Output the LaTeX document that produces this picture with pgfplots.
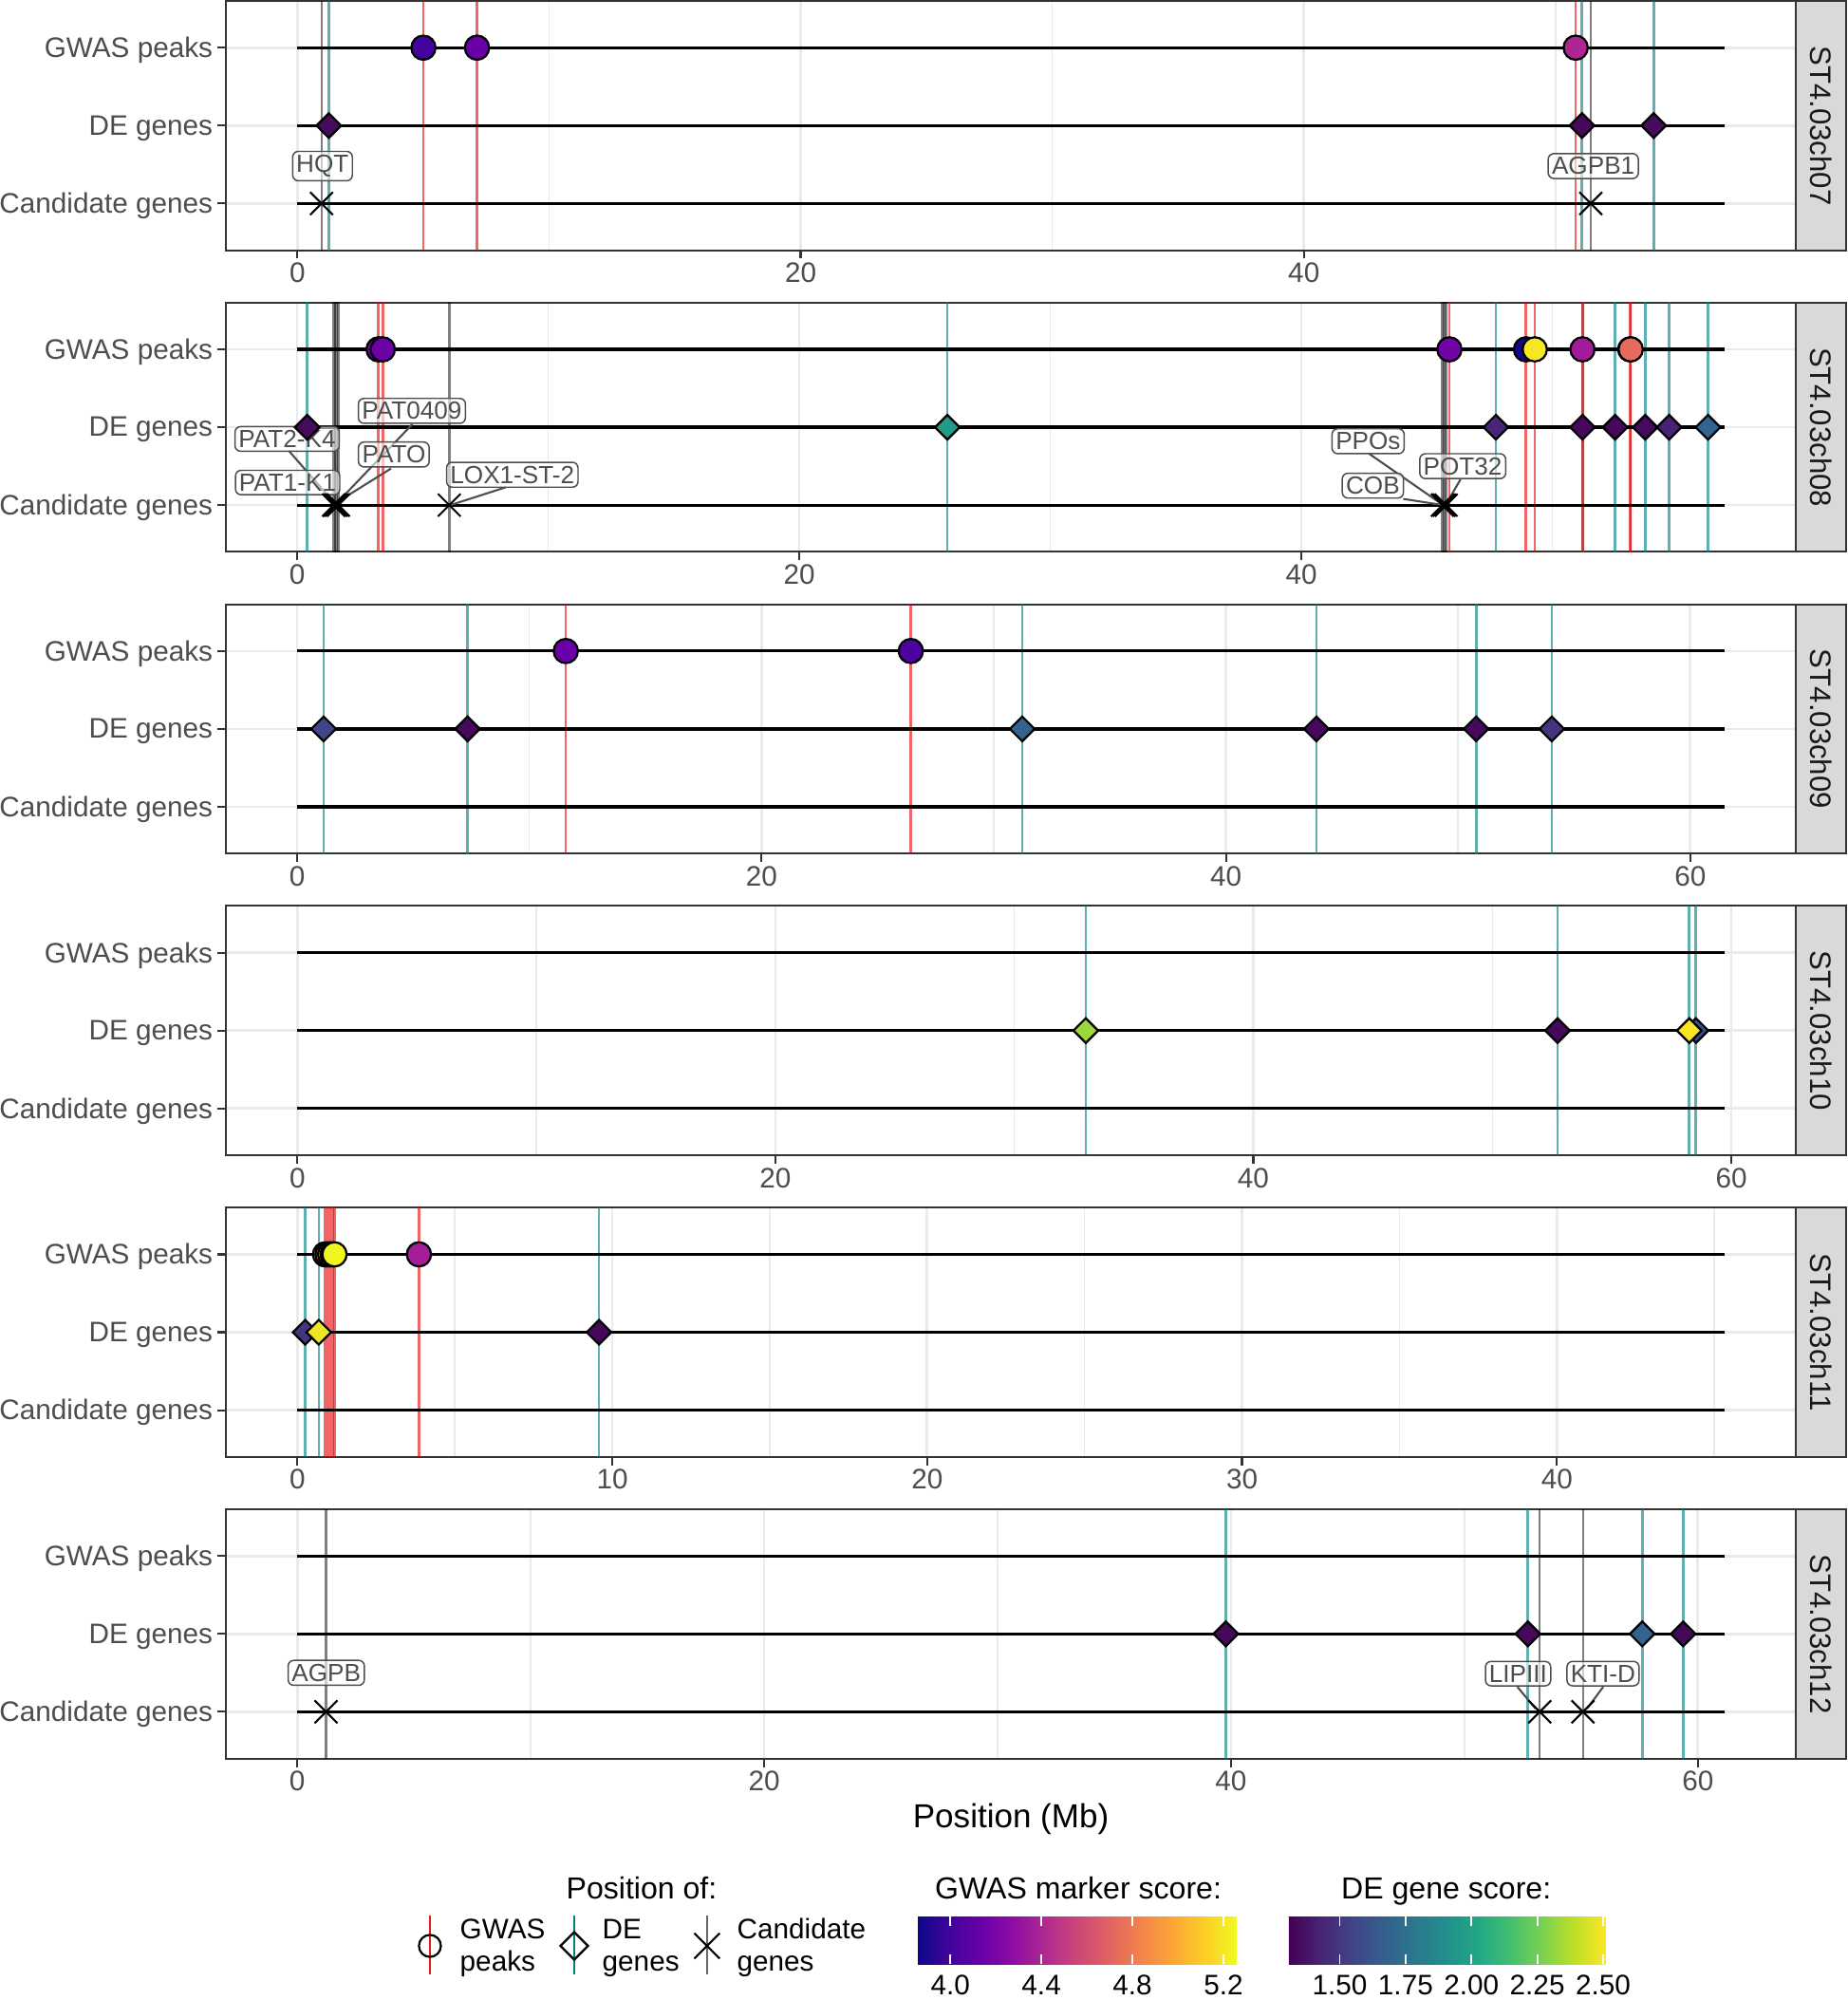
\documentclass[border=0pt]{standalone}
\usepackage{fontspec}
\setmainfont{Liberation Sans}
\usepackage{pgfplots}
\pgfplotsset{compat=1.18}

\definecolor{gridc}{HTML}{EBEBEB}
\definecolor{framec}{HTML}{333333}
\definecolor{tickc}{HTML}{4D4D4D}
\definecolor{stripc}{HTML}{D9D9D9}
\definecolor{tealc}{RGB}{0,128,128}
\definecolor{peakc}{RGB}{230,0,0}

% plasma (GWAS marker score) and viridis (DE gene score)
\definecolor{pl0}{RGB}{13,8,135}
\definecolor{pl1}{RGB}{65,4,157}
\definecolor{pl2}{RGB}{106,0,168}
\definecolor{pl3}{RGB}{143,13,164}
\definecolor{pl4}{RGB}{177,42,144}
\definecolor{pl5}{RGB}{204,71,120}
\definecolor{pl6}{RGB}{225,100,98}
\definecolor{pl7}{RGB}{242,132,75}
\definecolor{pl8}{RGB}{252,166,54}
\definecolor{pl9}{RGB}{252,206,37}
\definecolor{pl10}{RGB}{240,249,33}
\definecolor{vi0}{RGB}{68,1,84}
\definecolor{vi1}{RGB}{72,36,117}
\definecolor{vi2}{RGB}{65,68,135}
\definecolor{vi3}{RGB}{53,95,141}
\definecolor{vi4}{RGB}{42,120,142}
\definecolor{vi5}{RGB}{33,145,140}
\definecolor{vi6}{RGB}{34,168,132}
\definecolor{vi7}{RGB}{68,191,112}
\definecolor{vi8}{RGB}{122,209,81}
\definecolor{vi9}{RGB}{189,223,38}
\definecolor{vi10}{RGB}{253,231,37}

\pgfplotsset{
  colormap={plasmaC}{color=(pl0) color=(pl1) color=(pl2) color=(pl3) color=(pl4) color=(pl5) color=(pl6) color=(pl7) color=(pl8) color=(pl9) color=(pl10)},
  colormap={virC}{color=(vi0) color=(vi1) color=(vi2) color=(vi3) color=(vi4) color=(vi5) color=(vi6) color=(vi7) color=(vi8) color=(vi9) color=(vi10)},
}

\pgfdeclarehorizontalshading{plasmaH}{100bp}{color(0bp)=(pl0); color(25bp)=(pl0); color(30bp)=(pl1); color(35bp)=(pl2); color(40bp)=(pl3); color(45bp)=(pl4); color(50bp)=(pl5); color(55bp)=(pl6); color(60bp)=(pl7); color(65bp)=(pl8); color(70bp)=(pl9); color(75bp)=(pl10); color(100bp)=(pl10)}
\pgfdeclarehorizontalshading{viridisH}{100bp}{color(0bp)=(vi0); color(25bp)=(vi0); color(30bp)=(vi1); color(35bp)=(vi2); color(40bp)=(vi3); color(45bp)=(vi4); color(50bp)=(vi5); color(55bp)=(vi6); color(60bp)=(vi7); color(65bp)=(vi8); color(70bp)=(vi9); color(75bp)=(vi10); color(100bp)=(vi10)}

\tikzset{
  lab/.style={draw=tickc, line width=0.5pt, rounded corners=2pt, fill=white, fill opacity=0.6,
    text opacity=1, text=tickc, font=\fontsize{8.8}{9}\selectfont, inner xsep=1.3pt, inner ysep=1.3pt},
}

\pgfplotsset{
  chrom/.style={
    scale only axis, width=556.9pt, height=88.4pt, anchor=north west,
    ymin=0.4, ymax=3.6, ytick={1,2,3},
    yticklabels={Candidate genes,DE genes,GWAS peaks},
    axis line style={draw=framec, line width=0.7pt},
    tick style={draw=framec, line width=0.7pt},
    major tick length=3pt, minor tick length=0pt,
    tick align=outside, xtick pos=bottom, ytick pos=left,
    ticklabel style={font=\fontsize{10}{12}\selectfont, text=tickc},
    yticklabel style={inner xsep=1.5pt, yshift=-0.9pt},
    xticklabel style={yshift=2pt},
    xmajorgrids, ymajorgrids, xminorgrids,
    major grid style={draw=gridc, line width=0.9pt},
    minor grid style={draw=gridc, line width=0.5pt},
    /pgf/number format/assume math mode=true,
    colormap name=virC, point meta min=1.307, point meta max=2.509,
  },
  ov/.style={
    scale only axis, width=556.9pt, height=88.4pt, anchor=north west,
    ymin=0.4, ymax=3.6, hide axis,
    colormap name=plasmaC, point meta min=3.858, point meta max=5.258,
  },
  vpk/.style={draw=peakc, opacity=0.6, line width=0.9pt},
  vde/.style={draw=tealc, opacity=0.62, line width=0.9pt},
  vcand/.style={draw=black, opacity=0.5, line width=0.8pt},
  track/.style={black, line width=1.1pt},
  gw/.style={scatter, only marks, mark=*, mark size=4.3pt, point meta=explicit,
    scatter/use mapped color={draw=black, fill=mapped color},
    mark options={line width=0.75pt}},
  dm/.style={scatter, only marks, mark=square*, mark size=3.1pt, point meta=explicit,
    scatter/use mapped color={draw=black, fill=mapped color},
    mark options={rotate=45, line width=0.75pt}},
  cx/.style={only marks, mark=x, mark size=5.7pt, mark options={black, line width=0.7pt}},
  lead/.style={draw=tickc, line width=0.7pt},
}

\begin{document}
\begin{tikzpicture}
\path[use as bounding box] (0,0) rectangle (655.2pt,-709.4pt);

% ---------------- ST4.03ch07 ----------------
\begin{axis}[chrom, at={(80.13pt,-0.34pt)}, xmin=-2.84, xmax=59.55,
  xtick={0,20,40,60}, minor xtick={10,30,50}]
\pgfplotsinvokeforeach{0.96,51.4}{\addplot[vcand] coordinates {(#1,0) (#1,4)};}
\pgfplotsinvokeforeach{1.25,51.05,53.9}{\addplot[vde] coordinates {(#1,0) (#1,4)};}
\pgfplotsinvokeforeach{5.01,7.14,50.8}{\addplot[vpk] coordinates {(#1,0) (#1,4)};}
\addplot[track] coordinates {(0,1) (56.7,1)};
\addplot[track] coordinates {(0,2) (56.7,2)};
\addplot[track] coordinates {(0,3) (56.7,3)};
\addplot[dm] coordinates {(1.25,2) [1.34] (51.05,2) [1.33] (53.9,2) [1.34]};
\addplot[cx] coordinates {(0.96,1) (51.4,1)};
\node[lab] at (axis cs:1.0,1.48) {HQT};
\node[lab] at (axis cs:51.5,1.48) {AGPB1};
\end{axis}
\begin{axis}[ov, at={(80.13pt,-0.34pt)}, xmin=-2.84, xmax=59.55]
\addplot[gw] coordinates {(5.01,3) [4.00] (7.14,3) [4.14] (50.8,3) [4.40]};
\end{axis}

% ---------------- ST4.03ch08 ----------------
\begin{axis}[chrom, at={(80.13pt,-107.34pt)}, xmin=-2.84, xmax=59.7,
  xtick={0,20,40,60}, minor xtick={10,30,50}]
\pgfplotsinvokeforeach{1.45,1.51,1.57,1.64,6.06,45.62,45.69,45.77}{\addplot[vcand] coordinates {(#1,0) (#1,4)};}
\pgfplotsinvokeforeach{0.40,25.9,47.75,51.2,52.5,53.7,54.65,56.2}{\addplot[vde] coordinates {(#1,0) (#1,4)};}
\pgfplotsinvokeforeach{3.24,3.41,45.9,48.95,49.3,51.2,53.1,53.12}{\addplot[vpk] coordinates {(#1,0) (#1,4)};}
\addplot[track] coordinates {(0,1) (56.86,1)};
\addplot[track] coordinates {(0,2) (56.86,2)};
\addplot[track] coordinates {(0,3) (56.86,3)};
\addplot[dm] coordinates {(0.40,2) [1.34] (25.9,2) [1.96] (47.75,2) [1.43] (51.2,2) [1.33]
  (52.5,2) [1.33] (53.7,2) [1.34] (54.65,2) [1.42] (56.2,2) [1.69]};
\addplot[lead] coordinates {(-0.34,1.70) (1.45,1.04)};
\addplot[lead] coordinates {(1.1,1.13) (1.5,1.03)};
\addplot[lead] coordinates {(3.74,1.47) (1.6,1.04)};
\addplot[lead] coordinates {(4.59,2.04) (1.62,1.04)};
\addplot[lead] coordinates {(8.32,1.23) (6.1,1.0)};
\addplot[lead] coordinates {(42.7,1.66) (45.65,1.0)};
\addplot[lead] coordinates {(44.06,1.08) (45.65,1.0)};
\addplot[lead] coordinates {(46.34,1.33) (45.8,1.03)};
\addplot[cx] coordinates {(1.45,1) (1.51,1) (1.57,1) (1.64,1) (6.06,1) (45.62,1) (45.69,1) (45.77,1)};
\node[lab] at (axis cs:4.57,2.21) {PAT0409};
\node[lab] at (axis cs:-0.40,1.85) {PAT2-K4};
\node[lab] at (axis cs:3.85,1.65) {PATO};
\node[lab] at (axis cs:8.57,1.39) {LOX1-ST-2};
\node[lab] at (axis cs:-0.38,1.29) {PAT1-K1};
\node[lab] at (axis cs:42.66,1.82) {PPOs};
\node[lab] at (axis cs:46.43,1.50) {POT32};
\node[lab] at (axis cs:42.85,1.25) {COB};
\end{axis}
\begin{axis}[ov, at={(80.13pt,-107.34pt)}, xmin=-2.84, xmax=59.7]
\addplot[gw] coordinates {(3.24,3) [4.13] (3.41,3) [4.15] (45.9,3) [4.17] (48.95,3) [3.88]
  (49.3,3) [5.20] (51.2,3) [4.35] (53.1,3) [4.73] (53.12,3) [4.73]};
\end{axis}

% ---------------- ST4.03ch09 ----------------
\begin{axis}[chrom, at={(80.13pt,-214.34pt)}, xmin=-3.07, xmax=64.55,
  xtick={0,20,40,60}, minor xtick={10,30,50}]
\pgfplotsinvokeforeach{1.14,7.34,31.23,43.9,50.78,54.04}{\addplot[vde] coordinates {(#1,0) (#1,4)};}
\pgfplotsinvokeforeach{11.57,26.43}{\addplot[vpk] coordinates {(#1,0) (#1,4)};}
\addplot[track] coordinates {(0,1) (61.5,1)};
\addplot[track] coordinates {(0,2) (61.5,2)};
\addplot[track] coordinates {(0,3) (61.5,3)};
\addplot[dm] coordinates {(1.14,2) [1.56] (7.34,2) [1.33] (31.23,2) [1.69] (43.9,2) [1.33]
  (50.78,2) [1.33] (54.04,2) [1.49]};
\end{axis}
\begin{axis}[ov, at={(80.13pt,-214.34pt)}, xmin=-3.07, xmax=64.55]
\addplot[gw] coordinates {(11.57,3) [4.14] (26.43,3) [4.04]};
\end{axis}

% ---------------- ST4.03ch10 ----------------
\begin{axis}[chrom, at={(80.13pt,-321.34pt)}, xmin=-2.99, xmax=62.7,
  xtick={0,20,40,60}, minor xtick={10,30,50}]
\pgfplotsinvokeforeach{32.99,52.73,58.24,58.52}{\addplot[vde] coordinates {(#1,0) (#1,4)};}
\addplot[track] coordinates {(0,1) (59.73,1)};
\addplot[track] coordinates {(0,2) (59.73,2)};
\addplot[track] coordinates {(0,3) (59.73,3)};
\addplot[dm] coordinates {(32.99,2) [2.33] (52.73,2) [1.33] (58.52,2) [1.61] (58.24,2) [2.50]};
\end{axis}

% ---------------- ST4.03ch11 ----------------
\begin{axis}[chrom, at={(80.13pt,-428.34pt)}, xmin=-2.27, xmax=47.59,
  xtick={0,10,20,30,40}, minor xtick={5,15,25,35,45}]
\pgfplotsinvokeforeach{0.25,0.68,9.58}{\addplot[vde] coordinates {(#1,0) (#1,4)};}
\pgfplotsinvokeforeach{0.88,0.96,1.04,1.12,1.18,3.86}{\addplot[vpk] coordinates {(#1,0) (#1,4)};}
\addplot[track] coordinates {(0,1) (45.32,1)};
\addplot[track] coordinates {(0,2) (45.32,2)};
\addplot[track] coordinates {(0,3) (45.32,3)};
\addplot[dm] coordinates {(0.25,2) [1.49] (0.68,2) [2.48] (9.58,2) [1.33]};
\end{axis}
\begin{axis}[ov, at={(80.13pt,-428.34pt)}, xmin=-2.27, xmax=47.59]
\addplot[gw] coordinates {(0.88,3) [4.72] (0.96,3) [4.90] (1.04,3) [5.05] (1.12,3) [5.18]
  (1.18,3) [5.25] (3.86,3) [4.36]};
\end{axis}

% ---------------- ST4.03ch12 ----------------
\begin{axis}[chrom, at={(80.13pt,-535.34pt)}, xmin=-3.06, xmax=64.2,
  xtick={0,20,40,60}, minor xtick={10,30,50}]
\pgfplotsinvokeforeach{1.23,53.23,55.08}{\addplot[vcand] coordinates {(#1,0) (#1,4)};}
\pgfplotsinvokeforeach{39.78,52.72,57.62,59.37}{\addplot[vde] coordinates {(#1,0) (#1,4)};}
\addplot[track] coordinates {(0,1) (61.14,1)};
\addplot[track] coordinates {(0,2) (61.14,2)};
\addplot[track] coordinates {(0,3) (61.14,3)};
\addplot[dm] coordinates {(39.78,2) [1.33] (52.72,2) [1.33] (57.62,2) [1.69] (59.37,2) [1.33]};
\addplot[lead] coordinates {(52.27,1.32) (53.05,1.04)};
\addplot[lead] coordinates {(55.95,1.32) (55.25,1.04)};
\addplot[cx] coordinates {(1.23,1) (53.23,1) (55.08,1)};
\node[lab] at (axis cs:1.24,1.50) {AGPB};
\node[lab] at (axis cs:52.3,1.49) {LIPIII};
\node[lab] at (axis cs:55.94,1.49) {KTI-D};
\end{axis}

% facet strips
\foreach \yt/\nm in {-0.34/ST4.03ch07, -107.34/ST4.03ch08, -214.34/ST4.03ch09,
                     -321.34/ST4.03ch10, -428.34/ST4.03ch11, -535.34/ST4.03ch12}{
  \draw[fill=stripc, draw=framec, line width=0.7pt] (637pt,\yt pt) rectangle (655pt,\yt pt-88.4pt);
  \node[rotate=-90, font=\fontsize{10.5}{12}\selectfont, text=black!90] at (646pt,\yt pt-44.2pt) {\nm};
}

% x axis title
\node[anchor=base, font=\fontsize{11.8}{14}\selectfont] at (358.6pt,-648.3pt) {Position (Mb)};

% legend: position of
\node[anchor=base, font=\fontsize{10.8}{13}\selectfont] at (227.6pt,-673.6pt) {Position of:};
\draw[peakc, opacity=0.9, line width=0.8pt] (152.5pt,-679.5pt) -- (152.5pt,-700.3pt);
\draw[black, line width=0.75pt] (152.5pt,-690.2pt) circle (3.9pt);
\draw[tealc, line width=0.8pt] (203.7pt,-679.5pt) -- (203.7pt,-700.3pt);
\draw[black, line width=0.75pt] (203.7pt,-685.3pt) -- (208.6pt,-690.2pt) -- (203.7pt,-695.1pt) -- (198.8pt,-690.2pt) -- cycle;
\draw[black!60, line width=0.8pt] (250.8pt,-679.5pt) -- (250.8pt,-700.3pt);
\draw[black, line width=0.75pt] (246.3pt,-685.7pt) -- (255.3pt,-694.7pt) (246.3pt,-694.7pt) -- (255.3pt,-685.7pt);
\foreach \xx/\la/\lb in {163/GWAS/peaks, 213.5/DE/genes, 261.3/Candidate/genes}{
  \node[anchor=base west, inner sep=0pt, font=\fontsize{10}{12}\selectfont] at (\xx pt,-687.8pt) {\la};
  \node[anchor=base west, inner sep=0pt, font=\fontsize{10}{12}\selectfont] at (\xx pt,-699.2pt) {\lb};
}

% colour bars
\node[anchor=base, font=\fontsize{10.8}{13}\selectfont] at (382.5pt,-673.6pt) {GWAS marker score:};
\node[anchor=base, font=\fontsize{10.8}{13}\selectfont] at (513.0pt,-673.6pt) {DE gene score:};

\begin{axis}[at={(325.6pt,-696.6pt)}, anchor=south west, scale only axis,
  width=113.1pt, height=16.8pt, xmin=3.858, xmax=5.258, ymin=0, ymax=1,
  axis line style={draw=none}, ytick=\empty,
  xtick={4.0,4.4,4.8,5.2}, xticklabels={4.0,4.4,4.8,5.2},
  xtick pos=both, tick align=inside, major tick length=3.4pt,
  tick style={draw=white, line width=0.6pt}, axis on top,
  xticklabel style={font=\fontsize{10}{12}\selectfont, yshift=-0.4pt}]
\shade[shading=plasmaH] (axis cs:3.858,0) rectangle (axis cs:5.258,1);
\end{axis}
\begin{axis}[at={(457.2pt,-696.6pt)}, anchor=south west, scale only axis,
  width=112.3pt, height=16.8pt, xmin=1.307, xmax=2.509, ymin=0, ymax=1,
  axis line style={draw=none}, ytick=\empty,
  xtick={1.5,1.75,2,2.25,2.5}, xticklabels={1.50,1.75,2.00,2.25,2.50},
  xtick pos=both, tick align=inside, major tick length=3.4pt,
  tick style={draw=white, line width=0.6pt}, axis on top,
  xticklabel style={font=\fontsize{10}{12}\selectfont, yshift=-0.4pt}]
\shade[shading=viridisH] (axis cs:1.307,0) rectangle (axis cs:2.509,1);
\end{axis}
\end{tikzpicture}
\end{document}
